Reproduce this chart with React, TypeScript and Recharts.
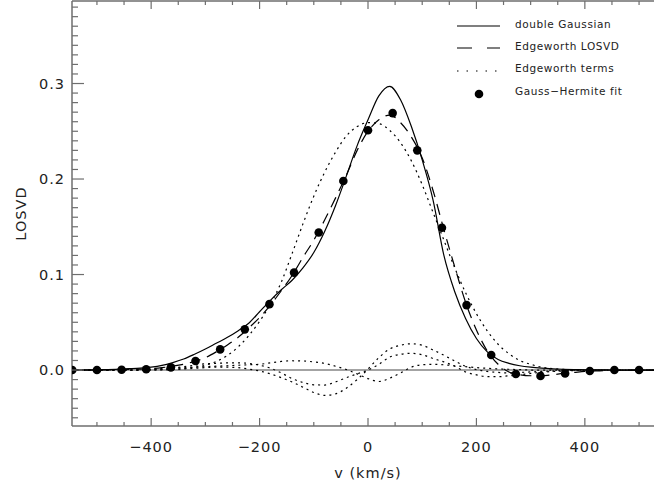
import { ComposedChart, Line, Scatter, XAxis, YAxis, ReferenceLine, Legend, Label } from "recharts";

// velocity grid (km/s) for the model curves
const velocity = [
  -560, -540, -520, -500, -480, -460, -440, -420, -400, -380, -360, -340, -320, -300, -280, -260, -240, -220, -200,
  -180, -160, -140, -120, -100, -80, -60, -40, -20, 0, 20, 40, 60, 80, 100, 120, 140, 160, 180, 200, 220, 240, 260,
  280, 300, 320, 340, 360, 380, 400, 420, 440, 460, 480, 500, 520, 540, 560,
];

const doubleGaussian = [
  0, 0, 0.0001, 0.0003, 0.0005, 0.0009, 0.0014, 0.002, 0.003, 0.0048, 0.0078, 0.0115, 0.0165, 0.022, 0.028, 0.034,
  0.041, 0.049, 0.061, 0.073, 0.084, 0.094, 0.107, 0.123, 0.145, 0.172, 0.203, 0.235, 0.262, 0.287, 0.297, 0.283,
  0.255, 0.22, 0.178, 0.12, 0.082, 0.054, 0.033, 0.019, 0.011, 0.007, 0.0045, 0.003, 0.002, 0.0013, 0.0008, 0.0005,
  0.0003, 0.0002, 0.0001, 0, 0, 0, 0, 0, 0,
];

const edgeworthLosvd = [
  0, 0, 0, 0, 0.0001, 0.0003, 0.0006, 0.001, 0.0015, 0.0025, 0.004, 0.006, 0.009, 0.013, 0.019, 0.026, 0.034, 0.044,
  0.055, 0.068, 0.083, 0.099, 0.118, 0.136, 0.157, 0.18, 0.204, 0.23, 0.25, 0.262, 0.267, 0.259, 0.244, 0.222, 0.188,
  0.147, 0.108, 0.071, 0.042, 0.02, 0.006, -0.002, -0.005, -0.006, -0.006, -0.005, -0.0035, -0.0025, -0.0015, -0.001,
  -0.0005, -0.0002, 0, 0, 0, 0, 0,
];

// Edgeworth terms: gaussian part and three correction terms
const termGauss = [
  0, 0, 0, 0, 0, 0, 0, 0, 0, 0.0003, 0.0007, 0.0015, 0.003, 0.005, 0.009, 0.015, 0.024, 0.036, 0.051, 0.069, 0.092,
  0.122, 0.153, 0.182, 0.207, 0.228, 0.245, 0.255, 0.259, 0.258, 0.251, 0.238, 0.219, 0.194, 0.165, 0.136, 0.107,
  0.081, 0.059, 0.041, 0.027, 0.017, 0.01, 0.006, 0.003, 0.0015, 0.0007, 0.0003, 0, 0, 0, 0, 0, 0, 0, 0, 0,
];

const termEven = [
  0, 0, 0, 0, 0, 0, 0, 0.0005, 0.001, 0.0015, 0.002, 0.0025, 0.003, 0.0035, 0.004, 0.0045, 0.005, 0.0055, 0.006,
  0.0075, 0.009, 0.0097, 0.0095, 0.0085, 0.007, 0.004, 0.0005, -0.004, -0.009, -0.012, -0.0085, -0.003, 0.003, 0.0055,
  0.006, 0.0055, 0.0045, 0.0035, 0.0025, 0.0018, 0.0012, 0.0008, 0.0004, 0, 0, 0, 0, 0, 0, 0, 0, 0, 0, 0, 0, 0, 0,
];

const termOddA = [
  0, 0, 0, 0, 0, 0, 0, 0, 0.0005, 0.001, 0.002, 0.0035, 0.005, 0.0065, 0.007, 0.0075, 0.0075, 0.007, 0.005, 0.002,
  -0.003, -0.009, -0.013, -0.0155, -0.0157, -0.0125, -0.008, -0.004, 0, 0.006, 0.0135, 0.0165, 0.0175, 0.016, 0.012,
  0.0085, 0.004, -0.002, -0.005, -0.007, -0.007, -0.006, -0.005, -0.0035, -0.0025, -0.0015, -0.001, -0.0005, 0, 0, 0,
  0, 0, 0, 0, 0, 0,
];

const termOddB = [
  0, 0, 0, 0, 0, 0, 0, 0, 0, 0.0003, 0.0007, 0.0012, 0.0018, 0.0025, 0.003, 0.003, 0.0025, 0.001, -0.001, -0.004,
  -0.008, -0.0125, -0.018, -0.0235, -0.0265, -0.025, -0.019, -0.01, 0.001, 0.013, 0.022, 0.026, 0.0275, 0.026, 0.021,
  0.0155, 0.0095, 0.004, 0.0005, -0.0015, -0.0025, -0.003, -0.0025, -0.002, -0.0015, -0.001, -0.0006, -0.0003, 0, 0,
  0, 0, 0, 0, 0, 0, 0,
];

// Gauss-Hermite fit points
const fitVelocity = [
  -545.5, -500, -454.5, -409.1, -363.6, -318.2, -272.7, -227.3, -181.8, -136.4, -90.9, -45.5, 0, 45.5, 90.9, 136.4,
  181.8, 227.3, 272.7, 318.2, 363.6, 409.1, 454.5, 500,
];
const fitLosvd = [
  0, 0, 0.0003, 0.0008, 0.0028, 0.0094, 0.0216, 0.0426, 0.069, 0.102, 0.144, 0.198, 0.251, 0.269, 0.23, 0.149, 0.068,
  0.0157, -0.0042, -0.0063, -0.0035, -0.001, 0, 0,
];

const xMajorTicks = [-400, -200, 0, 200, 400];
const xTickLabels = ["\u2212400", "\u2212200", "0", "200", "400"];
const yMajorTicks = [0, 0.1, 0.2, 0.3];
const yTickLabels = ["0.0", "0.1", "0.2", "0.3"];

const xTicks: number[] = [];
for (let v = -500; v <= 500; v += 50) xTicks.push(v);
const yTicks: number[] = [];
for (let i = -5; i <= 38; i++) yTicks.push(i / 100);

const curveData = velocity.map((v, i) => ({
  v,
  dg: doubleGaussian[i],
  ew: edgeworthLosvd[i],
  t0: termGauss[i],
  t1: termEven[i],
  t2: termOddA[i],
  t3: termOddB[i],
}));
const fitData = fitVelocity.map((v, i) => ({ v, losvd: fitLosvd[i] }));

const axisColor = "#6e6e6e";
const textColor = "#222";
const font = "'DejaVu Sans', sans-serif";
const dotted = "2 4";

function yMajorIndex(value: number) {
  return yMajorTicks.findIndex((t) => Math.abs(t - value) < 1e-6);
}

function LeftTick(props: any) {
  const { x, y, payload } = props;
  const i = yMajorIndex(payload.value);
  return (
    <g>
      <line x1={x} x2={x + (i >= 0 ? 12 : 6)} y1={y} y2={y} stroke={axisColor} strokeWidth={1.2} />
      {i >= 0 && (
        <text x={x - 7} y={y + 5} textAnchor="end" fontSize={14.5} letterSpacing={1} fill={textColor} fontFamily={font}>
          {yTickLabels[i]}
        </text>
      )}
    </g>
  );
}

function BottomTick(props: any) {
  const { x, y, payload } = props;
  const i = xMajorTicks.indexOf(payload.value);
  return (
    <g>
      <line x1={x} x2={x} y1={y} y2={y - (i >= 0 ? 8 : 4)} stroke={axisColor} strokeWidth={1.2} />
      {i >= 0 && (
        <text x={x} y={y + 26} textAnchor="middle" fontSize={14.5} letterSpacing={1} fill={textColor} fontFamily={font}>
          {xTickLabels[i]}
        </text>
      )}
    </g>
  );
}

function TopTick(props: any) {
  const { x, y, payload } = props;
  const major = xMajorTicks.includes(payload.value);
  return <line x1={x} x2={x} y1={y} y2={y + (major ? 8 : 4)} stroke={axisColor} strokeWidth={1.2} />;
}

function LegendBox() {
  const t = { fontSize: 10.5, fill: textColor, fontFamily: font, letterSpacing: 0.6 } as const;
  return (
    <svg width={215} height={100} style={{ display: "block" }}>
      <line x1={17} x2={60} y1={16} y2={16} stroke="#000" strokeWidth={1.2} />
      <text x={75} y={18} {...t}>double Gaussian</text>
      <line x1={17} x2={60} y1={38} y2={38} stroke="#000" strokeWidth={1.2} strokeDasharray="15 15" />
      <text x={75} y={40} {...t}>Edgeworth LOSVD</text>
      <line x1={17} x2={60} y1={61} y2={61} stroke="#000" strokeWidth={1.2} strokeDasharray="1.5 8" />
      <text x={75} y={62} {...t}>Edgeworth terms</text>
      <circle cx={39} cy={84} r={4.3} fill="#000" />
      <text x={75} y={85} {...t}>Gauss−Hermite fit</text>
    </svg>
  );
}

export default function App() {
  return (
    <div style={{ position: "absolute", left: 0, top: 0, width: 654, height: 483, overflow: "hidden", background: "#fff" }}>
      <ComposedChart width={680} height={483} data={curveData} margin={{ top: 0, right: 16, bottom: 0, left: 0 }}>
        <XAxis
          dataKey="v"
          type="number"
          domain={[-546, 546]}
          allowDataOverflow
          ticks={xTicks}
          interval={0}
          height={57}
          tickSize={0}
          tickMargin={0}
          tickLine={false}
          tick={(p: any) => <BottomTick {...p} />}
          axisLine={{ stroke: axisColor, strokeWidth: 1.5 }}
        >
          <Label
            content={(p: any) => (
              <text
                x={p.viewBox.x + p.viewBox.width / 2}
                y={p.viewBox.y + 52}
                textAnchor="middle"
                fontSize={14.5}
                letterSpacing={1}
                fill={textColor}
                fontFamily={font}
              >
                v (km/s)
              </text>
            )}
          />
        </XAxis>
        <XAxis
          xAxisId="top"
          orientation="top"
          dataKey="v"
          type="number"
          domain={[-546, 546]}
          allowDataOverflow
          ticks={xTicks}
          interval={0}
          height={1}
          tickSize={0}
          tickMargin={0}
          tickLine={false}
          tick={(p: any) => <TopTick {...p} />}
          axisLine={{ stroke: axisColor, strokeWidth: 1.5 }}
        />
        <YAxis
          type="number"
          domain={[-0.0586, 0.3864]}
          allowDataOverflow
          ticks={yTicks}
          interval={0}
          width={72}
          tickSize={0}
          tickMargin={0}
          tickLine={false}
          tick={(p: any) => <LeftTick {...p} />}
          axisLine={{ stroke: axisColor, strokeWidth: 1.5 }}
        >
          <Label
            content={(p: any) => {
              const cx = p.viewBox.x + 21;
              const cy = p.viewBox.y + p.viewBox.height / 2;
              return (
                <text
                  x={cx}
                  y={cy}
                  transform={`rotate(-90 ${cx} ${cy})`}
                  textAnchor="middle"
                  dominantBaseline="central"
                  fontSize={14.5}
                  letterSpacing={1}
                  fill={textColor}
                  fontFamily={font}
                >
                  LOSVD
                </text>
              );
            }}
          />
        </YAxis>
        <ReferenceLine y={0} stroke="#858585" strokeWidth={1.5} />
        <Line dataKey="t0" type="monotone" stroke="#000" strokeWidth={1.2} strokeDasharray={dotted} dot={false} isAnimationActive={false} />
        <Line dataKey="t1" type="monotone" stroke="#000" strokeWidth={1.2} strokeDasharray={dotted} dot={false} isAnimationActive={false} />
        <Line dataKey="t2" type="monotone" stroke="#000" strokeWidth={1.2} strokeDasharray={dotted} dot={false} isAnimationActive={false} />
        <Line dataKey="t3" type="monotone" stroke="#000" strokeWidth={1.2} strokeDasharray={dotted} dot={false} isAnimationActive={false} />
        <Line dataKey="ew" type="monotone" stroke="#000" strokeWidth={1.2} strokeDasharray="11 7" dot={false} isAnimationActive={false} />
        <Line dataKey="dg" type="monotone" stroke="#000" strokeWidth={1.2} dot={false} isAnimationActive={false} />
        <Scatter
          data={fitData}
          dataKey="losvd"
          isAnimationActive={false}
          shape={(p: any) => <circle cx={p.cx} cy={p.cy} r={4.3} fill="#000" />}
        />
        <Legend
          layout="vertical"
          align="center"
          verticalAlign="middle"
          wrapperStyle={{ left: 440, top: 10, width: 215, height: 100 }}
          content={() => <LegendBox />}
        />
      </ComposedChart>
    </div>
  );
}
